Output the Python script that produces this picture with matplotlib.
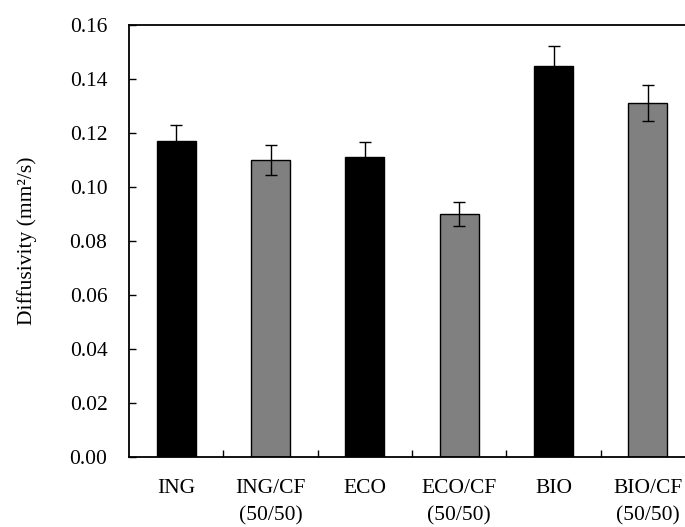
import numpy as np
import matplotlib.pyplot as plt

plt.rcParams['font.family'] = ['Liberation Serif', 'DejaVu Serif']

# Data
labels = ['ING', 'ING/CF\n(50/50)', 'ECO', 'ECO/CF\n(50/50)', 'BIO', 'BIO/CF\n(50/50)']
diffusivity = [0.117, 0.110, 0.111, 0.090, 0.145, 0.131]
errors = [0.0058, 0.0056, 0.0055, 0.0045, 0.0073, 0.0066]
colors = ['black', '#808080', 'black', '#808080', 'black', '#808080']

fig = plt.figure(figsize=(6.85, 5.27), dpi=100)
ax = fig.add_axes([129/685, 1 - 457/527, 566/685, (457-25)/527])

x = np.arange(len(labels))
ax.bar(x, diffusivity, width=0.41, color=colors, edgecolor='black', linewidth=1.0,
       yerr=errors, capsize=4.2, error_kw=dict(ecolor='black', elinewidth=1.0, capthick=1.0))

ax.set_xlim(-0.5, 5.5)
ax.set_ylim(0, 0.16)
ax.set_yticks(np.arange(0, 0.161, 0.02))
ax.set_yticklabels([f'{v:.2f}' for v in np.arange(0, 0.161, 0.02)])
ax.set_xticks(x)
ax.set_xticklabels(labels, fontsize=15.5, linespacing=1.55)
ax.tick_params(axis='x', which='major', length=0, pad=16)
ax.set_xticks(x[:-1] + 0.5, minor=True)
ax.tick_params(axis='x', which='minor', direction='in', length=5, width=1)
ax.tick_params(axis='y', direction='in', length=5, width=1, labelsize=15.5, pad=15.5)
ax.set_ylabel('Diffusivity (mm²/s)', fontsize=15.5)
ax.yaxis.set_label_coords(-92/566, 0.5)

for s in ax.spines.values():
    s.set_linewidth(1.3)

plt.savefig('out.png', dpi=100)
